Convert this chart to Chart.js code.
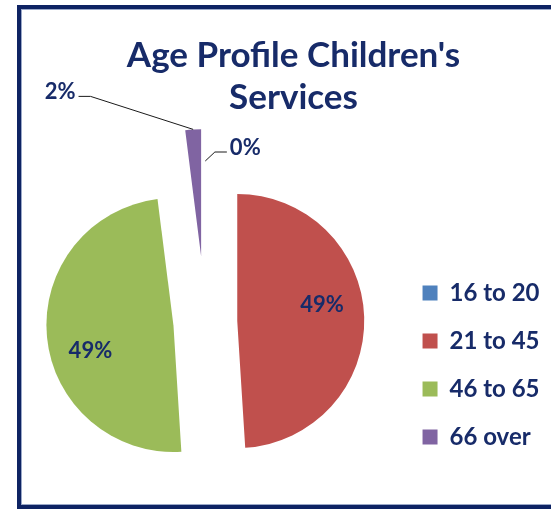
<!DOCTYPE html>
<html>
<head>
<meta charset="utf-8">
<script src="https://cdn.jsdelivr.net/npm/chart.js@4/dist/chart.umd.min.js"></script>
<style>
  html, body { margin: 0; padding: 0; background: #ffffff; overflow: hidden; width: 551px; height: 510px; }
  #frame {
    position: absolute; left: 17px; top: 5px;
    width: 545px; height: 496px;
    border: 4px solid #0e2363;
    box-shadow: inset 0 0 0 1px #9aa8c8;
    background: #ffffff;
  }
  #chart { position: absolute; left: 0; top: 0; width: 545px; height: 496px; }
</style>
</head>
<body>
<div id="frame"><canvas id="chart" width="545" height="496"></canvas></div>
<script>
// Age bands and their share of staff (%)
const categories = ['16 to 20', '21 to 45', '46 to 65', '66 over'];
const shares = [0, 49, 49, 2];
const sliceColours = ['#4F81BD', '#C0504D', '#9BBB59', '#8064A2'];
const titleLines = ["Age Profile Children's", 'Services'];

// how far each slice is pulled out from the pie centre (px)
const explode = [34, 32, 32, 66];
// horizontal nudge of the whole pie inside its chart area (px)
const pieNudge = { x: -12.75, y: 0 };

// where each percentage label sits: inside a slice (fraction of radius, angle turn in degrees)
// or outside with a leader line (offset from the slice's outer edge)
const labelPlacement = [
  { outside: true, dx: 40, dy: -13 },
  { frac: 0.68, turn: -9 },
  { frac: 0.685, turn: -12 },
  { outside: true, dx: -133, dy: -37 }
];

const navy = '#172b69';
const fontFamily = 'Lato, "Open Sans", sans-serif';

function sliceGeometry(arc, i) {
  const mid = (arc.startAngle + arc.endAngle) / 2;
  const d = explode[i] || 0;
  return {
    cx: arc.x + pieNudge.x + Math.cos(mid) * d,
    cy: arc.y + pieNudge.y + Math.sin(mid) * d,
    mid: mid,
    r: arc.outerRadius
  };
}

// draws every slice pulled out along its bisector
const explodedSlices = {
  id: 'explodedSlices',
  beforeDatasetDraw(chart, args) {
    const ctx = chart.ctx;
    args.meta.data.forEach((arc, i) => {
      const g = sliceGeometry(arc, i);
      ctx.save();
      ctx.translate(g.cx - arc.x, g.cy - arc.y);
      arc.draw(ctx);
      ctx.restore();
    });
    return false;
  }
};

// percentage labels, with leader lines for the small slices
const sliceLabels = {
  id: 'sliceLabels',
  afterDatasetsDraw(chart) {
    const meta = chart.getDatasetMeta(0);
    const ctx = chart.ctx;
    ctx.save();
    ctx.font = 'bold 22px ' + fontFamily;
    ctx.textBaseline = 'middle';
    ctx.textAlign = 'center';
    meta.data.forEach((arc, i) => {
      const g = sliceGeometry(arc, i);
      const p = labelPlacement[i];
      const text = shares[i] + '%';
      if (p.outside) {
        const sx = g.cx + Math.cos(g.mid) * g.r;
        const sy = g.cy + Math.sin(g.mid) * g.r;
        const tx = sx + p.dx;
        const ty = sy + p.dy;
        const w = ctx.measureText(text).width;
        const side = p.dx < 0 ? 1 : -1;
        const edge = tx + side * w / 2;
        ctx.beginPath();
        ctx.moveTo(sx, sy);
        ctx.lineTo(edge + side * 15, ty + 4);
        ctx.lineTo(edge + side * 3, ty + 4);
        ctx.strokeStyle = '#1a1a1a';
        ctx.lineWidth = 1;
        ctx.stroke();
        ctx.fillStyle = navy;
        ctx.fillText(text, tx, ty);
      } else {
        const a = g.mid + p.turn * Math.PI / 180;
        ctx.fillStyle = navy;
        ctx.fillText(text, g.cx + Math.cos(a) * g.r * p.frac, g.cy + Math.sin(a) * g.r * p.frac);
      }
    });
    ctx.restore();
  }
};

function draw() {
  new Chart(document.getElementById('chart'), {
    type: 'pie',
    data: {
      labels: categories,
      datasets: [{
        data: shares,
        backgroundColor: sliceColours,
        borderWidth: 0
      }]
    },
    options: {
      responsive: false,
      animation: false,
      events: [],
      radius: 127,
      layout: { padding: { left: 16.5, right: 16.5, top: 0, bottom: 32 } },
      plugins: {
        title: {
          display: true,
          text: titleLines,
          color: navy,
          font: { family: fontFamily, size: 35, weight: 'bold', lineHeight: 1.2 },
          padding: { top: 25.5, bottom: 52.5 }
        },
        legend: {
          display: true,
          position: 'right',
          align: 'end',
          labels: {
            color: navy,
            font: { family: fontFamily, size: 24, weight: 'bold' },
            boxWidth: 15,
            boxHeight: 15,
            padding: 24
          }
        },
        tooltip: { enabled: false }
      }
    },
    plugins: [explodedSlices, sliceLabels]
  });
}

if (document.fonts && document.fonts.load) {
  Promise.all([
    document.fonts.load('bold 22px Lato'),
    document.fonts.load('bold 35px Lato')
  ]).then(draw, draw);
} else {
  draw();
}
</script>
</body>
</html>
